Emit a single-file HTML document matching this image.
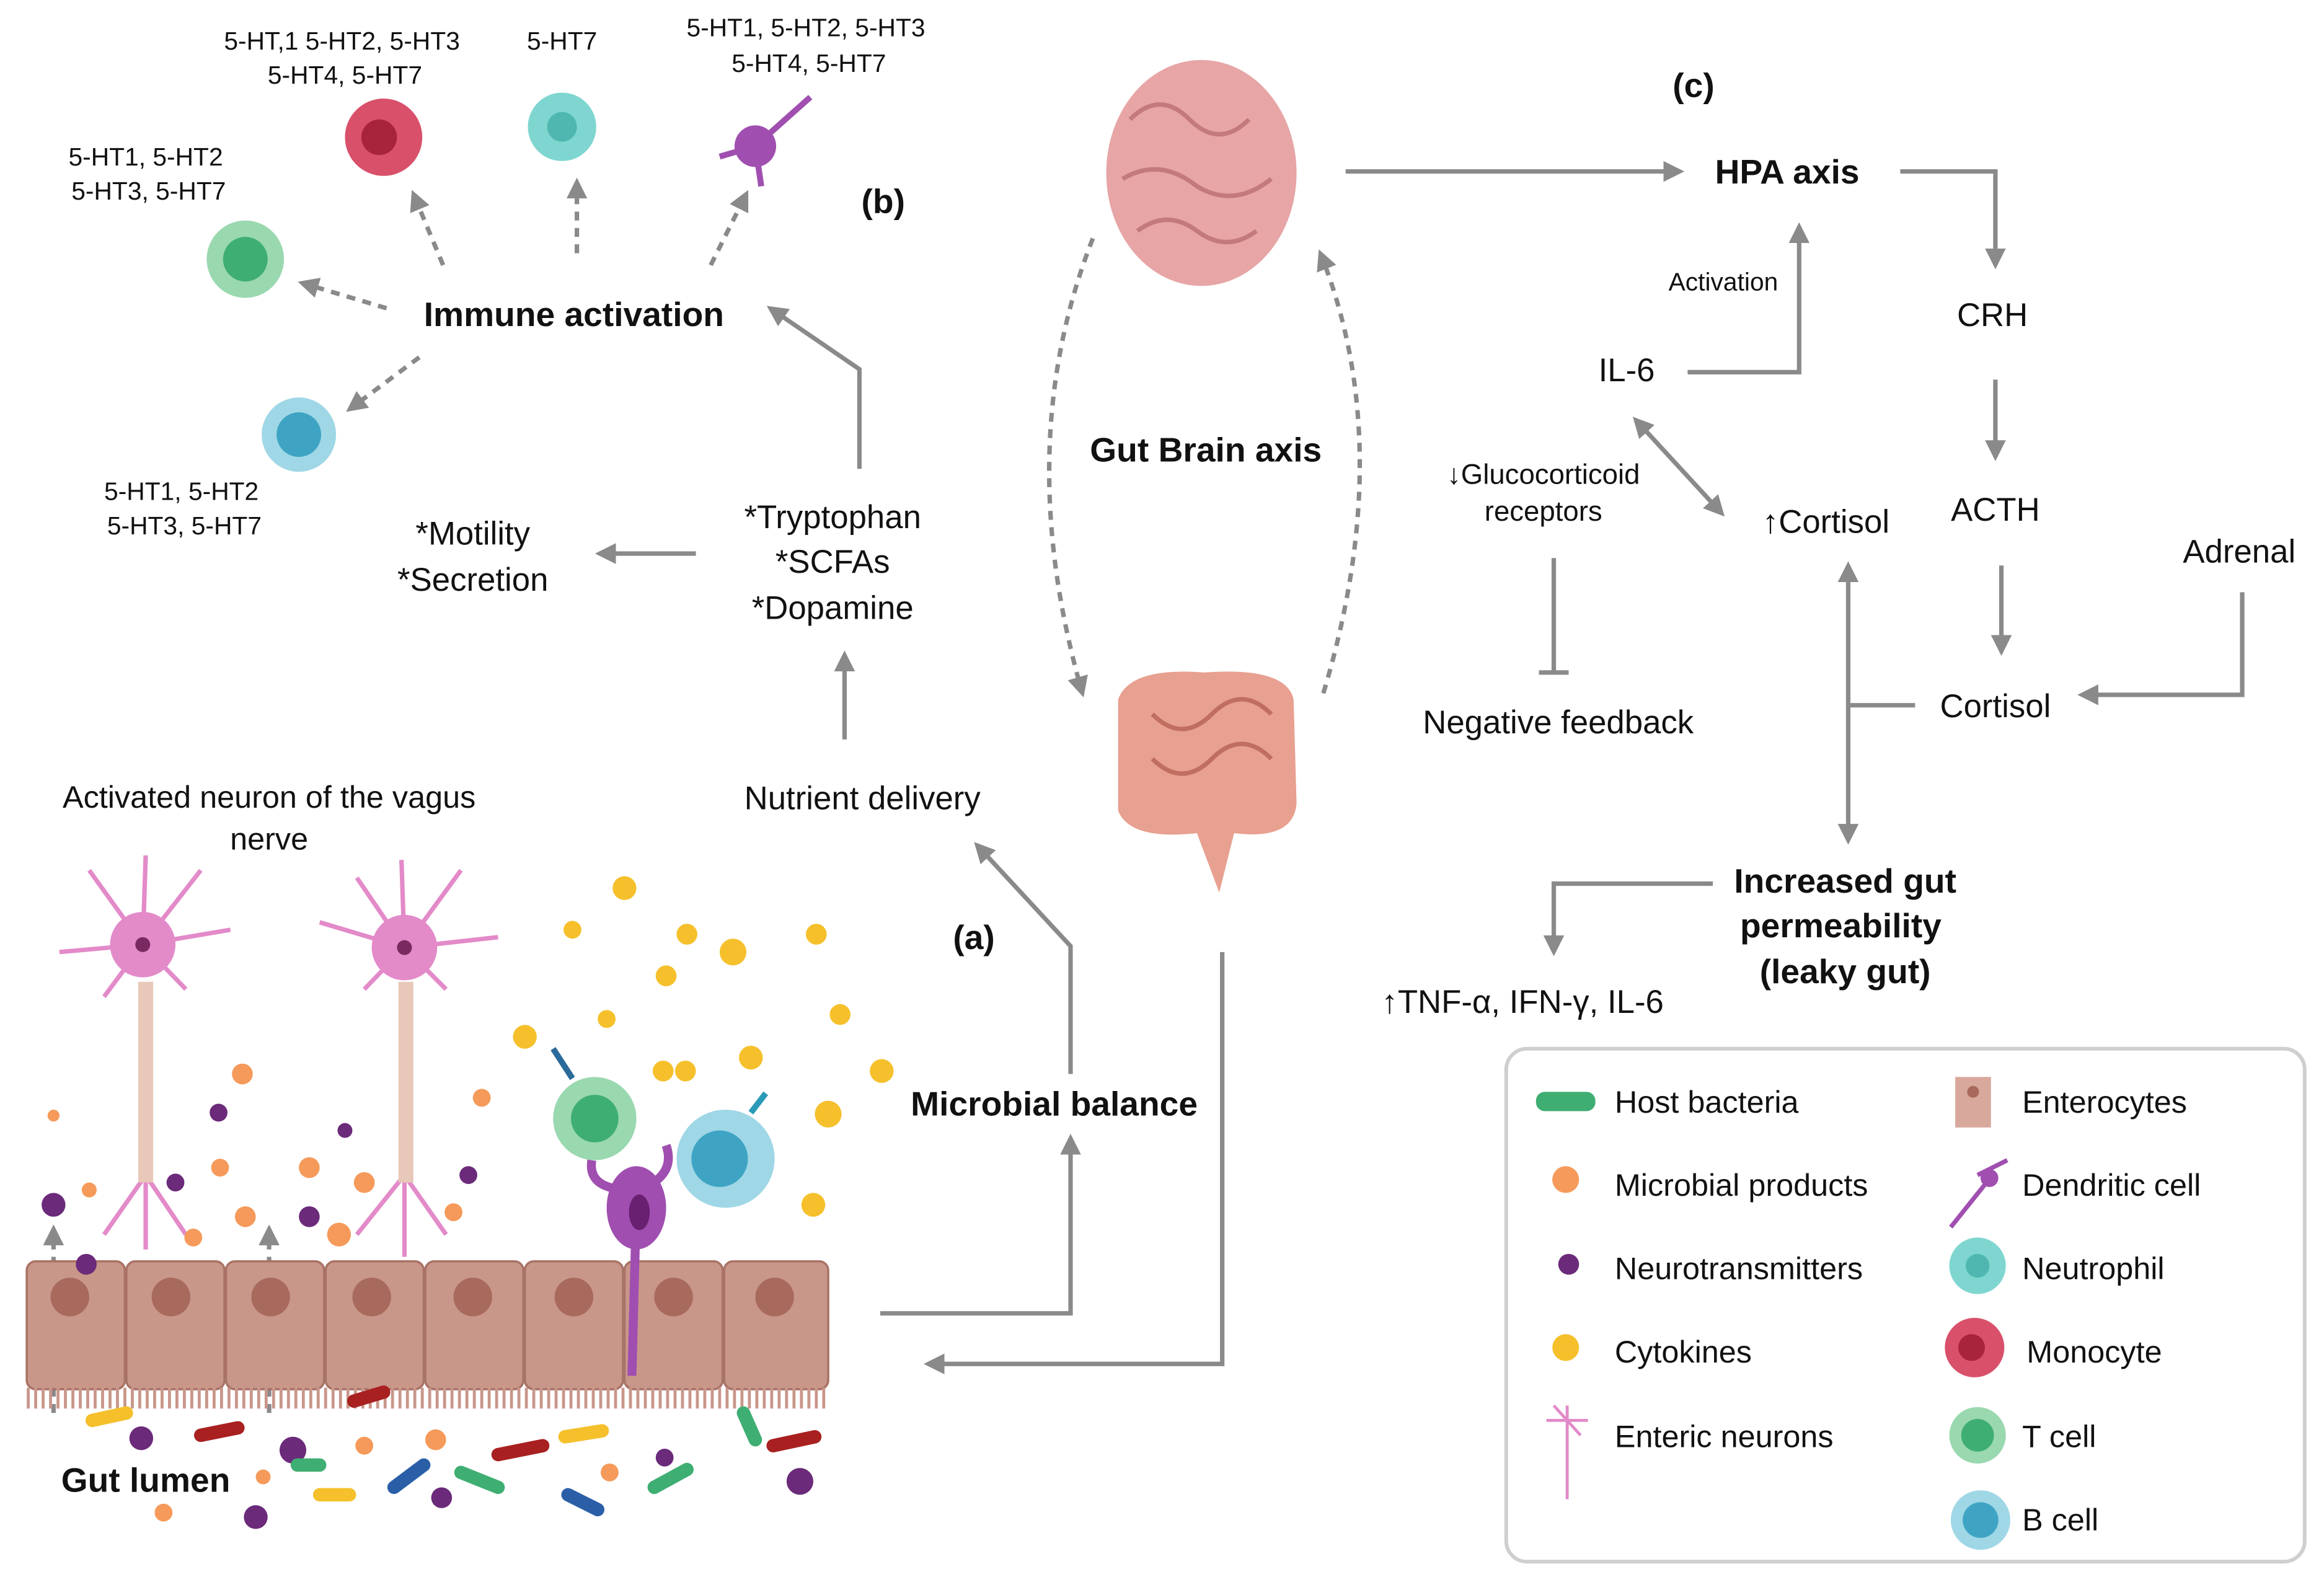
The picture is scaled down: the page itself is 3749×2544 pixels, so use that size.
<!DOCTYPE html>
<html><head><meta charset="utf-8"><style>
html,body{margin:0;padding:0;background:#fff}
svg{display:block}
text{font-family:"Liberation Sans","DejaVu Sans",sans-serif;fill:#111}
.b{font-weight:bold}
</style></head><body>
<svg width="3749" height="2544" viewBox="0 0 1563 1060" xmlns="http://www.w3.org/2000/svg">
<defs>
<marker id="a" viewBox="0 0 10 10" refX="8" refY="5" markerWidth="14" markerHeight="14" orient="auto-start-reverse" markerUnits="userSpaceOnUse"><path d="M0,0 L10,5 L0,10 Z" fill="#8a8a8a"/></marker>
</defs>
<g stroke="#8a8a8a" stroke-width="3" fill="none" marker-end="url(#a)">
<path d="M298,178 L278,130" stroke-dasharray="6,5"/>
<path d="M388,170 L388,122" stroke-dasharray="6,5"/>
<path d="M478,178 L502,130" stroke-dasharray="6,5"/>
<path d="M260,207 L203,190" stroke-dasharray="6,5"/>
<path d="M282,240 L235,275" stroke-dasharray="6,5"/>
<path d="M578,315 L578,248 L518,207"/>
<path d="M468,372 L403,372"/>
<path d="M568,497 L568,440"/>
<path d="M720,722 L720,636 L657,568"/>
<path d="M592,883 L720,883 L720,765"/>
<path d="M822,640 L822,917 L624,917"/>
<path d="M735,160 Q680,300 728,466" stroke-dasharray="6,5"/>
<path d="M890,466 Q940,300 888,170" stroke-dasharray="6,5"/>
<path d="M905,115 L1130,115"/>
<path d="M1278,115 L1342,115 L1342,178"/>
<path d="M1342,255 L1342,307"/>
<path d="M1346,380 L1346,438"/>
<path d="M1508,398 L1508,467 L1400,467"/>
<path d="M1135,250 L1210,250 L1210,152"/>
<path d="M1288,474 L1243,474 L1243,380"/>
<path d="M1243,474 L1243,565"/>
<path d="M1152,594 L1045,594 L1045,640"/>
</g>
<path d="M1100,282 L1158,345" stroke="#8a8a8a" stroke-width="3" fill="none" marker-start="url(#a)" marker-end="url(#a)"/>
<path d="M1045,375 L1045,452 M1035,452 L1055,452" stroke="#8a8a8a" stroke-width="3"/>
<g stroke="#8a8a8a" stroke-width="3" fill="none" stroke-dasharray="6,5" marker-end="url(#a)">
<path d="M36,950 L36,826"/><path d="M181,950 L181,826"/>
</g>
<circle cx="258" cy="92" r="26" fill="#d9506a"/><circle cx="255" cy="92" r="12" fill="#a8243c"/>
<circle cx="378" cy="85" r="23" fill="#7fd6d0"/><circle cx="378" cy="85" r="10" fill="#4fb7b0"/>
<circle cx="508" cy="98" r="14" fill="#a04fb0"/><path d="M508,98 L545,65 M508,98 L484,105 M508,98 L512,125" stroke="#a04fb0" stroke-width="4"/>
<circle cx="165" cy="174" r="26" fill="#9ad8b0"/><circle cx="165" cy="174" r="15" fill="#3fae72"/>
<circle cx="201" cy="292" r="25" fill="#9fd7e6"/><circle cx="201" cy="292" r="15" fill="#3fa4c4"/>
<ellipse cx="808" cy="116" rx="64" ry="76" fill="#e7a5a5"/>
<path d="M760,80 q20,-20 40,0 q20,20 40,0 M755,120 q25,-15 50,5 q25,15 50,-5 M765,155 q20,-15 40,0 q20,15 40,0" stroke="#c47a7a" stroke-width="3" fill="none"/>
<path d="M752,470 Q760,448 810,452 Q865,448 870,470 L872,540 Q870,565 830,560 L820,600 L805,560 Q760,565 752,545 Z" fill="#e8a090"/>
<path d="M775,480 q20,20 40,0 q20,-20 40,0 M775,510 q20,20 40,0 q20,-20 40,0" stroke="#c06e60" stroke-width="3" fill="none"/>
<g stroke="#e38ac9" stroke-width="3" fill="none">
<path d="M96,635 L60,585 M96,635 L135,585 M96,635 L40,640 M96,635 L155,625 M96,635 L70,670 M96,635 L125,665 M96,635 L98,575"/>
<path d="M272,637 L240,590 M272,637 L310,585 M272,637 L215,620 M272,637 L335,630 M272,637 L245,665 M272,637 L300,665 M272,637 L270,578"/>
<path d="M98,790 L70,830 M98,790 L125,830 M98,790 L98,840"/>
<path d="M272,790 L240,830 M272,790 L300,830 M272,790 L272,845"/>
</g>
<circle cx="96" cy="635" r="22" fill="#e38ac9"/><circle cx="96" cy="635" r="5" fill="#7a2a60"/>
<circle cx="272" cy="637" r="22" fill="#e38ac9"/><circle cx="272" cy="637" r="5" fill="#7a2a60"/>
<rect x="93" y="660" width="10" height="135" fill="#e8c8b8"/><rect x="268" y="660" width="10" height="135" fill="#e8c8b8"/>
<g fill="#c9968a" stroke="#a87366" stroke-width="1.5">
<rect x="18" y="848" width="66" height="86" rx="6"/><rect x="85" y="848" width="66" height="86" rx="6"/>
<rect x="152" y="848" width="66" height="86" rx="6"/><rect x="219" y="848" width="66" height="86" rx="6"/>
<rect x="286" y="848" width="66" height="86" rx="6"/><rect x="353" y="848" width="66" height="86" rx="6"/>
<rect x="420" y="848" width="66" height="86" rx="6"/><rect x="487" y="848" width="70" height="86" rx="6"/>
</g>
<g fill="#a86a5c"><circle cx="47" cy="872" r="13"/><circle cx="115" cy="872" r="13"/><circle cx="182" cy="872" r="13"/><circle cx="250" cy="872" r="13"/><circle cx="318" cy="872" r="13"/><circle cx="386" cy="872" r="13"/><circle cx="453" cy="872" r="13"/><circle cx="521" cy="872" r="13"/></g>
<path d="M18,940 L558,940" stroke="#c9968a" stroke-width="14" stroke-dasharray="2,3"/>
<g fill="#f5c02b"><circle cx="420" cy="597" r="8"/><circle cx="385" cy="625" r="6"/><circle cx="462" cy="628" r="7"/><circle cx="493" cy="640" r="9"/><circle cx="549" cy="628" r="7"/><circle cx="448" cy="656" r="7"/><circle cx="353" cy="697" r="8"/><circle cx="408" cy="685" r="6"/><circle cx="565" cy="682" r="7"/><circle cx="446" cy="720" r="7"/><circle cx="461" cy="720" r="7"/><circle cx="505" cy="711" r="8"/><circle cx="593" cy="720" r="8"/><circle cx="557" cy="749" r="9"/><circle cx="547" cy="810" r="8"/></g>
<g fill="#f59a5a"><circle cx="163" cy="722" r="7"/><circle cx="36" cy="750" r="4"/><circle cx="148" cy="785" r="6"/><circle cx="208" cy="785" r="7"/><circle cx="245" cy="795" r="7"/><circle cx="324" cy="738" r="6"/><circle cx="165" cy="818" r="7"/><circle cx="228" cy="830" r="8"/><circle cx="305" cy="815" r="6"/><circle cx="60" cy="800" r="5"/><circle cx="130" cy="832" r="6"/><circle cx="245" cy="972" r="6"/><circle cx="293" cy="968" r="7"/><circle cx="410" cy="990" r="6"/><circle cx="110" cy="1017" r="6"/><circle cx="177" cy="993" r="5"/></g>
<g fill="#6b2a7a"><circle cx="147" cy="748" r="6"/><circle cx="232" cy="760" r="5"/><circle cx="118" cy="795" r="6"/><circle cx="315" cy="790" r="6"/><circle cx="36" cy="810" r="8"/><circle cx="58" cy="850" r="7"/><circle cx="208" cy="818" r="7"/><circle cx="95" cy="967" r="8"/><circle cx="197" cy="975" r="9"/><circle cx="172" cy="1020" r="8"/><circle cx="297" cy="1007" r="7"/><circle cx="538" cy="996" r="9"/><circle cx="447" cy="980" r="6"/></g>
<circle cx="400" cy="752" r="28" fill="#9ad8b0"/><circle cx="400" cy="752" r="16" fill="#3fae72"/>
<path d="M385,725 L372,705" stroke="#2a6a9a" stroke-width="4"/>
<circle cx="488" cy="779" r="33" fill="#9fd7e6"/><circle cx="484" cy="779" r="19" fill="#3fa4c4"/>
<path d="M505,748 L515,735" stroke="#2a9ab8" stroke-width="4"/>
<path d="M425,800 Q395,800 398,780 M430,800 Q455,790 448,770 M428,810 L425,925" stroke="#a04fb0" stroke-width="6" fill="none"/>
<ellipse cx="428" cy="812" rx="20" ry="28" fill="#a04fb0"/><ellipse cx="430" cy="815" rx="7" ry="12" fill="#6a2070"/>
<g stroke-linecap="round" stroke-width="9"><path d="M62,955 L85,950" stroke="#f5c02b"/><path d="M135,965 L160,960" stroke="#a82020"/><path d="M238,942 L258,936" stroke="#a82020"/><path d="M335,978 L365,972" stroke="#a82020"/><path d="M380,966 L405,962" stroke="#f5c02b"/><path d="M500,950 L508,968" stroke="#3fae72"/><path d="M520,972 L548,966" stroke="#a82020"/><path d="M310,990 L335,1000" stroke="#3fae72"/><path d="M265,1000 L285,985" stroke="#2a5fa8"/><path d="M215,1005 L235,1005" stroke="#f5c02b"/><path d="M440,1000 L462,988" stroke="#3fae72"/><path d="M382,1005 L402,1015" stroke="#2a5fa8"/><path d="M200,985 L215,985" stroke="#3fae72"/></g>
<g font-size="17" text-anchor="middle">
<text x="230" y="33">5-HT,1 5-HT2, 5-HT3</text><text x="232" y="56">5-HT4, 5-HT7</text>
<text x="378" y="33">5-HT7</text>
<text x="542" y="24">5-HT1, 5-HT2, 5-HT3</text><text x="544" y="48">5-HT4, 5-HT7</text>
<text x="98" y="111">5-HT1, 5-HT2</text><text x="100" y="134">5-HT3, 5-HT7</text>
<text x="122" y="336">5-HT1, 5-HT2</text><text x="124" y="359">5-HT3, 5-HT7</text>
<text x="1159" y="195">Activation</text>
<text x="1038" y="325" font-size="19">↓Glucocorticoid</text><text x="1038" y="350" font-size="19">receptors</text>
</g>
<g font-size="22" text-anchor="middle">
<text x="318" y="366">*Motility</text><text x="318" y="397">*Secretion</text>
<text x="560" y="355">*Tryptophan</text><text x="560" y="385">*SCFAs</text><text x="560" y="416">*Dopamine</text>
<text x="580" y="544">Nutrient delivery</text>
<text x="181" y="543" font-size="21">Activated neuron of the vagus</text><text x="181" y="571" font-size="21">nerve</text>
<text x="1340" y="219">CRH</text><text x="1094" y="256">IL-6</text><text x="1228" y="358">↑Cortisol</text>
<text x="1342" y="350">ACTH</text><text x="1506" y="378">Adrenal</text>
<text x="1048" y="493">Negative feedback</text><text x="1342" y="482">Cortisol</text>
<text x="1024" y="681">↑TNF-α, IFN-γ, IL-6</text>
</g>
<g font-size="23" text-anchor="middle">
<text class="b" x="594" y="143">(b)</text><text class="b" x="386" y="219">Immune activation</text>
<text class="b" x="655" y="638">(a)</text><text class="b" x="709" y="750">Microbial balance</text>
<text class="b" x="811" y="310">Gut Brain axis</text><text class="b" x="1139" y="65">(c)</text>
<text class="b" x="1202" y="123">HPA axis</text>
<text class="b" x="1241" y="600">Increased gut</text><text class="b" x="1238" y="630">permeability</text><text class="b" x="1241" y="661">(leaky gut)</text>
<text class="b" x="98" y="1003">Gut lumen</text>
</g>
<rect x="1013" y="705" width="537" height="345" rx="14" fill="#fff" stroke="#cfcfcf" stroke-width="2.5"/>
<g font-size="21">
<text x="1086" y="748">Host bacteria</text><text x="1086" y="804">Microbial products</text><text x="1086" y="860">Neurotransmitters</text><text x="1086" y="916">Cytokines</text><text x="1086" y="973">Enteric neurons</text>
<text x="1360" y="748">Enterocytes</text><text x="1360" y="804">Dendritic cell</text><text x="1360" y="860">Neutrophil</text><text x="1363" y="916">Monocyte</text><text x="1360" y="973">T cell</text><text x="1360" y="1029">B cell</text>
</g>
<rect x="1033" y="734" width="40" height="13" rx="6" fill="#3fae72"/>
<circle cx="1053" cy="793" r="9" fill="#f59a5a"/><circle cx="1055" cy="850" r="7" fill="#6b2a7a"/><circle cx="1053" cy="906" r="9" fill="#f5c02b"/>
<path d="M1054,945 L1054,1008 M1040,955 L1068,955 M1045,945 L1063,965" stroke="#e38ac9" stroke-width="2"/>
<rect x="1315" y="724" width="24" height="34" fill="#d9a89c"/><circle cx="1327" cy="734" r="4" fill="#a86a5c"/>
<path d="M1312,825 L1340,790 M1330,790 L1350,780" stroke="#a04fb0" stroke-width="3"/><circle cx="1338" cy="792" r="6" fill="#a04fb0"/>
<circle cx="1330" cy="851" r="19" fill="#7fd6d0"/><circle cx="1330" cy="851" r="8" fill="#4fb7b0"/>
<circle cx="1328" cy="906" r="20" fill="#d9506a"/><circle cx="1326" cy="906" r="9" fill="#a8243c"/>
<circle cx="1330" cy="965" r="19" fill="#9ad8b0"/><circle cx="1330" cy="965" r="11" fill="#3fae72"/>
<circle cx="1332" cy="1022" r="20" fill="#9fd7e6"/><circle cx="1332" cy="1022" r="12" fill="#3fa4c4"/>
</svg>
</body></html>
